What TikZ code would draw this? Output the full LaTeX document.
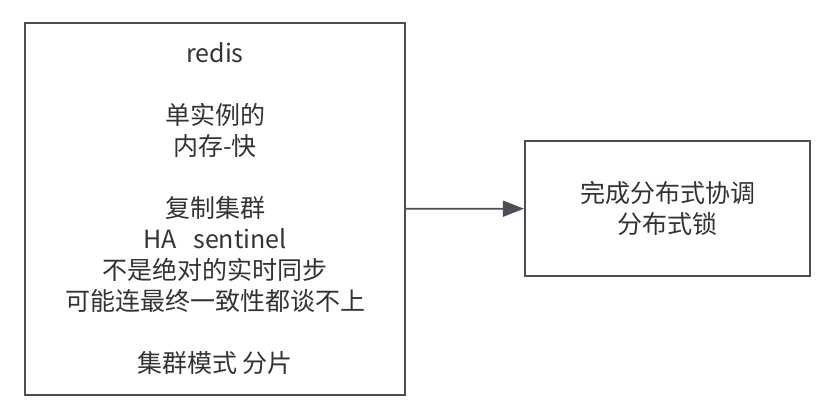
\documentclass[tikz,border=0pt]{standalone}
\usepackage{fontspec}
\newfontfamily\cjk{Noto Sans CJK SC}
\usetikzlibrary{arrows.meta}
\definecolor{linegray}{HTML}{4A4F55}
\definecolor{textgray}{HTML}{333333}
\tikzset{
    box/.style = {draw=linegray, line width=2.2pt, inner sep=0pt, align=center,
        text=textgray, font=\cjk\fontsize{25}{31}\selectfont},
}
\begin{document}
\begin{tikzpicture}[x=1pt, y=-1pt]
    \useasboundingbox (0,0) rectangle (822,410);
    \node[box, minimum width=380pt, minimum height=372pt] (redis) at (215,209)
        {redis\\[31pt]单实例的\\内存-快\\[31pt]复制集群\\HA\ \ \ sentinel\\不是绝对的实时同步\\可能连最终一致性都谈不上\\[31pt]集群模式 分片};
    \node[box, minimum width=285pt, minimum height=135pt] (lock) at (667.5,208.5)
        {完成分布式协调\\分布式锁};
    \draw [-{Triangle[length=21pt, width=16pt]}, linegray, line width=1.8pt](redis) -- (lock);
\end{tikzpicture}
\end{document}
